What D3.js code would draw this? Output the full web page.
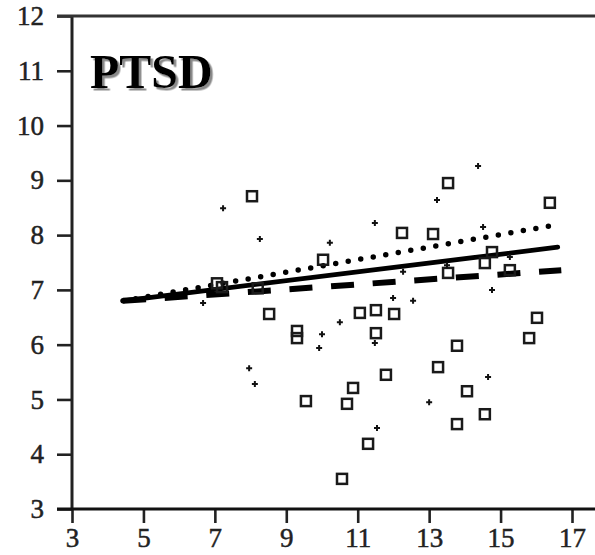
<!DOCTYPE html>
<html lang="en">
  <head>
    <meta charset="UTF-8" />
    <title>PTSD</title>
    <style>
      body { margin: 0; background: #fff; }
      svg { display: block; }
    </style>
  </head>
  <body>
    <script src="https://d3js.org/d3.v7.min.js"></script>
    <script>
      const width = 595;
      const height = 555;

      // open squares
      const squareX = [8.04, 7.06, 7.2, 8.2, 8.52, 9.3, 9.3, 9.55, 10.03, 10.56, 10.7, 10.87, 11.06, 11.51, 11.51, 11.29, 11.79, 12.02, 12.24, 13.11, 13.25, 13.53, 13.53, 13.78, 13.78, 14.06, 14.56, 14.56, 14.76, 15.26, 15.8, 16.02, 16.38];
      const squareY = [8.71, 7.12, 7.05, 7.03, 6.56, 6.25, 6.12, 4.97, 7.55, 3.55, 4.92, 5.21, 6.58, 6.63, 6.21, 4.19, 5.45, 6.56, 8.04, 8.02, 5.59, 8.95, 7.31, 5.98, 4.55, 5.15, 4.73, 7.49, 7.69, 7.36, 6.12, 6.49, 8.59];

      // small crosses
      const crossX = [7.23, 8.26, 6.67, 7.96, 8.12, 10.22, 11.48, 10.5, 10.0, 9.92, 11.48, 11.99, 12.55, 12.27, 13.22, 14.37, 14.51, 15.26, 13.5, 14.76, 14.65, 13.0, 11.54];
      const crossY = [8.49, 7.93, 6.76, 5.57, 5.28, 7.86, 8.22, 6.41, 6.19, 5.94, 6.03, 6.85, 6.8, 7.33, 8.64, 9.26, 8.15, 7.6, 7.45, 7.0, 5.41, 4.95, 4.48];

      // fitted lines: [x0, y0, x1, y1]
      const solidLine = [4.43, 6.8, 16.6, 7.78];
      const dottedLine = [4.43, 6.8, 16.4, 8.17];
      const dashedLine = [4.43, 6.8, 16.7, 7.36];

      const xTicks = [3, 5, 7, 9, 11, 13, 15, 17];
      const yTicks = [3, 4, 5, 6, 7, 8, 9, 10, 11, 12];

      const x = d3.scaleLinear().domain([3, 17]).range([72, 572]);
      const y = d3.scaleLinear().domain([3, 12]).range([509, 16]);

      const svg = d3
        .select("body")
        .append("svg")
        .attr("width", width)
        .attr("height", height);

      const font = "'Liberation Serif', 'Times New Roman', serif";

      const defs = svg.append("defs");
      defs.append("filter")
        .attr("id", "shadow")
        .attr("x", "-10%").attr("y", "-10%")
        .attr("width", "130%").attr("height", "130%")
        .append("feDropShadow")
        .attr("dx", 2.5).attr("dy", 2.5)
        .attr("stdDeviation", 0.6)
        .attr("flood-color", "#8a8a8a")
        .attr("flood-opacity", 1);

      // axes
      const yAxis = svg
        .append("g")
        .attr("transform", `translate(${x(3)},0)`)
        .call(d3.axisLeft(y).tickValues(yTicks).tickSize(15).tickPadding(13));
      const xAxis = svg
        .append("g")
        .attr("transform", `translate(0,${y(3)})`)
        .call(d3.axisBottom(x).tickValues(xTicks).tickSize(14).tickPadding(5));

      [xAxis, yAxis].forEach((g) => {
        g.select(".domain").remove();
        g.selectAll(".tick line").attr("stroke", "#222").attr("stroke-width", 2.6);
        g.selectAll(".tick text")
          .attr("fill", "#222")
          .attr("stroke", "#222")
          .attr("stroke-width", 0.5)
          .style("font-family", font)
          .style("font-size", "27px");
      });

      // frame lines
      svg.append("line")
        .attr("x1", x(3)).attr("x2", x(3))
        .attr("y1", y(12)).attr("y2", y(3))
        .attr("stroke", "#222").attr("stroke-width", 3);
      svg.append("line")
        .attr("x1", 57).attr("x2", width)
        .attr("y1", y(3)).attr("y2", y(3))
        .attr("stroke", "#111").attr("stroke-width", 3);
      svg.append("line")
        .attr("x1", 57).attr("x2", width)
        .attr("y1", y(12)).attr("y2", y(12))
        .attr("stroke", "#333").attr("stroke-width", 3);

      // fitted lines
      const drawLine = (l, w, dash, cap) =>
        svg.append("line")
          .attr("x1", x(l[0])).attr("y1", y(l[1]))
          .attr("x2", x(l[2])).attr("y2", y(l[3]))
          .attr("stroke", "#000")
          .attr("stroke-width", w)
          .attr("stroke-dasharray", dash)
          .attr("stroke-linecap", cap);

      drawLine(dottedLine, 5.5, "0 12.7", "round");
      drawLine(dashedLine, 6, "23 18.7", "butt");
      drawLine(solidLine, 4.8, null, "round");

      // squares
      const squares = squareX.map((v, i) => ({ x: v, y: squareY[i] }));
      svg.selectAll("rect.sq")
        .data(squares)
        .join("rect")
        .attr("class", "sq")
        .attr("x", (d) => x(d.x) - 5)
        .attr("y", (d) => y(d.y) - 5)
        .attr("width", 10)
        .attr("height", 10)
        .attr("fill", "none")
        .attr("stroke", "#1a1a1a")
        .attr("stroke-width", 2.5);

      // crosses
      const crosses = crossX.map((v, i) => ({ x: v, y: crossY[i] }));
      svg.selectAll("path.cr")
        .data(crosses)
        .join("path")
        .attr("class", "cr")
        .attr("transform", (d) => `translate(${x(d.x)},${y(d.y)})`)
        .attr("d", d3.symbol(d3.symbolCross, 20))
        .attr("fill", "#111");

      // title with drop shadow
      svg.append("text")
        .attr("x", 90).attr("y", 88)
        .attr("fill", "#000")
        .attr("filter", "url(#shadow)")
        .style("font-family", font)
        .style("font-weight", "bold")
        .style("font-size", "48px")
        .text("PTSD");
    </script>
  </body>
</html>
